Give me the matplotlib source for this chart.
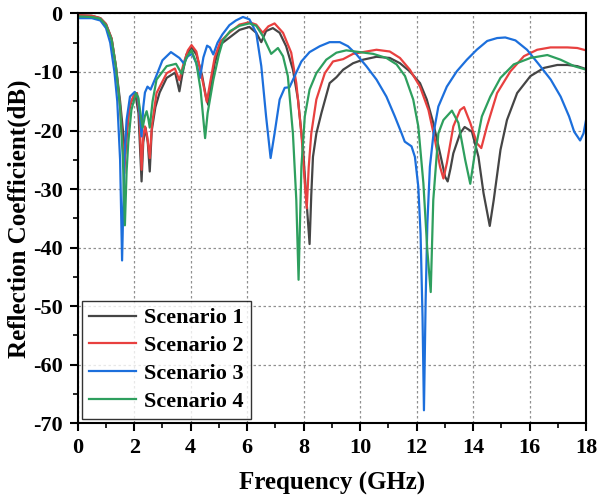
import matplotlib
matplotlib.use("Agg")
import matplotlib.pyplot as plt

plt.rcParams['font.family'] = ['Liberation Serif', 'DejaVu Serif']
plt.rcParams['font.weight'] = 'bold'
plt.rcParams['axes.unicode_minus'] = False

# Scenario 1 (black)
f1 = [0, 0.5, 0.8, 1.0, 1.2, 1.35, 1.5, 1.6, 1.68, 1.8, 1.9, 2.05, 2.15, 2.26, 2.32, 2.4, 2.48,
      2.55, 2.62, 2.75, 2.9, 3.15, 3.45, 3.6, 3.7, 3.85, 4.03, 4.2, 4.4, 4.55, 4.62, 4.7, 4.85,
      5.05, 5.35, 5.73, 6.08, 6.32, 6.5, 6.67, 6.91, 7.15, 7.38, 7.62, 7.8, 7.98, 8.1, 8.21, 8.27,
      8.33, 8.45, 8.63, 8.92, 9.16, 9.4, 9.75, 10.1, 10.58, 11.05, 11.41, 11.76, 12.12, 12.36,
      12.59, 12.83, 13.01, 13.1, 13.2, 13.3, 13.54, 13.7, 13.96, 14.19, 14.37, 14.59, 14.73,
      14.97, 15.2, 15.56, 16.03, 16.51, 16.98, 17.34, 17.69, 18.0]
s1 = [-0.3, -0.4, -0.8, -1.8, -4.3, -9, -15, -20, -24, -17, -15, -14, -17, -28.7, -22, -19.5, -22,
      -27, -20, -16, -13.5, -11, -10.1, -13.3, -10.5, -7, -5.8, -7, -10.5, -14.5, -15.6, -13, -8.5,
      -5.3, -4.2, -2.8, -2.3, -3.3, -4.9, -3.0, -2.5, -3.3, -5.6, -9.6, -14.7, -23.3, -31.9, -39.4, -31,
      -24.5, -20.5, -17, -11.9, -10.9, -9.6, -8.5, -7.9, -7.4, -7.6, -8.5, -9.9, -11.9, -14.7,
      -18.7, -23.9, -27.9, -28.7, -26.5, -23.9, -20.5, -19.4, -20.2, -24.5, -30.7, -36.3, -31.9,
      -23.3, -18.2, -13.6, -10.7, -9.3, -8.8, -8.8, -9.0, -9.5]

# Scenario 2 (red)
f2 = [0, 0.5, 0.8, 1.0, 1.2, 1.35, 1.5, 1.6, 1.65, 1.72, 1.85, 2.0, 2.1, 2.18, 2.26, 2.32, 2.38,
      2.46, 2.55, 2.63, 2.79, 3.15, 3.44, 3.6, 3.75, 3.9, 4.03, 4.2, 4.4, 4.57, 4.7, 4.85, 5.05,
      5.37, 5.73, 6.08, 6.32, 6.55, 6.75, 6.97, 7.27, 7.56, 7.74, 7.92, 8.04, 8.11, 8.18, 8.27,
      8.45, 8.75, 9.04, 9.4, 9.75, 10.1, 10.58, 11.05, 11.41, 11.76, 12.12, 12.42, 12.65, 12.83,
      12.95, 13.07, 13.3, 13.54, 13.68, 13.9, 14.14, 14.29, 14.49, 14.85, 15.32, 15.8, 16.27,
      16.74, 17.34, 17.69, 18.0]
s2 = [-0.3, -0.4, -0.8, -1.8, -4.3, -9, -16, -23, -27.3, -21, -15.5, -13.8, -13.6, -17, -26.7, -21,
      -19.3, -21, -24.7, -19, -13.6, -10.2, -9.4, -11.4, -8.5, -6.3, -5.4, -6.5, -11, -15.1, -11.5,
      -7.5, -4.8, -3.3, -1.9, -1.5, -1.9, -3.3, -2.2, -1.7, -3.3, -6.7, -11.9, -20.5, -29, -33.3,
      -26.2, -20.5, -14.7, -10.2, -8.2, -7.8, -6.9, -6.6, -6.2, -6.5, -7.6, -9.6, -12.5, -16.5,
      -21.6, -26.2, -28.2, -25.6, -19.3, -16.5, -16, -18.7, -22.2, -23, -19.3, -13.6, -9.9, -7.3,
      -6.2, -5.8, -5.8, -5.9, -6.3]

# Scenario 3 (blue)
f3 = [0, 0.5, 0.8, 1.0, 1.15, 1.3, 1.4, 1.5, 1.57, 1.65, 1.73, 1.85, 2.02, 2.14, 2.2, 2.26, 2.32,
      2.38, 2.47, 2.58, 2.73, 3.0, 3.3, 3.6, 3.75, 3.9, 4.05, 4.2, 4.33, 4.45, 4.58, 4.68, 4.8,
      4.95, 5.12, 5.37, 5.6, 5.85, 6.08, 6.32, 6.5, 6.67, 6.83, 6.97, 7.15, 7.33, 7.5, 7.68, 7.92,
      8.21, 8.57, 8.92, 9.28, 9.57, 9.87, 10.22, 10.58, 10.93, 11.23, 11.47, 11.58, 11.82, 11.94,
      12.06, 12.14, 12.21, 12.26, 12.32, 12.38, 12.47, 12.6, 12.77, 13.07, 13.42, 13.78, 14.13,
      14.5, 14.85, 15.14, 15.5, 15.91, 16.33, 16.75, 17.1, 17.4, 17.58, 17.79, 17.91, 18.0]
s3 = [-0.8, -0.8, -1.2, -2.5, -5, -10, -15, -25, -42.2, -25, -18.2, -14.2, -13.4, -14.5, -17.5,
      -21, -16, -13.5, -12.5, -13, -11.3, -8.0, -6.6, -7.6, -8.5, -7.3, -6.9, -8.5, -11, -7.5, -5.5,
      -5.8, -7.0, -5.0, -3.6, -2.0, -1.2, -0.6, -1.0, -3.3, -9, -17.6, -24.7, -20.5, -14.7, -12.7,
      -12.6, -10.7, -8.2, -6.6, -5.6, -4.9, -4.9, -5.6, -7.0, -9, -11.3, -14.2, -17.6, -20.5, -21.9,
      -22.7, -24.5, -29.6, -37.6, -51.9, -67.8, -49, -36, -26.2, -20.5, -15.9, -12.5, -9.9, -7.9,
      -6.2, -4.7, -4.2, -4.1, -4.6, -6.2, -8.7, -11.3, -14.2, -17.6, -20.2, -21.7, -20.5, -18.2]

# Scenario 4 (green)
f4 = [0, 0.5, 0.8, 1.0, 1.2, 1.35, 1.5, 1.6, 1.67, 1.73, 1.79, 1.9, 2.06, 2.14, 2.22, 2.3, 2.38,
      2.44, 2.5, 2.55, 2.65, 2.79, 3.15, 3.48, 3.68, 3.85, 4.03, 4.2, 4.35, 4.51, 4.6, 4.8, 5.0,
      5.15, 5.4, 5.73, 6.08, 6.32, 6.56, 6.85, 7.09, 7.27, 7.44, 7.62, 7.74, 7.82, 7.92, 8.04,
      8.21, 8.45, 8.8, 9.16, 9.51, 9.99, 10.46, 10.93, 11.29, 11.59, 11.88, 12.06, 12.24, 12.38,
      12.5, 12.59, 12.77, 12.95, 13.25, 13.48, 13.72, 13.9, 14.08, 14.31, 14.61, 14.97, 15.44,
      16.03, 16.63, 17.1, 17.58, 18.0]
s4 = [-0.5, -0.6, -0.9, -2.0, -4.5, -9, -16, -25, -36.2, -27, -22, -16.5, -13.6, -14.3, -17, -19.5,
      -17.5, -16.7, -18, -19.5, -15, -11.3, -9.0, -8.6, -10.3, -7.5, -6.3, -8.5, -13, -21.3, -17,
      -11.4, -7, -4.5, -3.0, -2.1, -1.7, -2.1, -3.9, -6.9, -5.9, -7.3, -10.7, -20.5, -31.9, -45.5,
      -26.2, -17.6, -13, -10.2, -7.9, -6.7, -6.3, -6.6, -6.9, -7.6, -8.7, -10.7, -14.7, -19.3, -29,
      -40.5, -47.6, -31.9, -20.5, -18.2, -16.6, -18.7, -25, -29.1, -23.3, -17.6, -14.2, -11, -8.7,
      -7.6, -7.1, -7.9, -9.0, -9.6]

labels = ['Scenario 1', 'Scenario 2', 'Scenario 3', 'Scenario 4']
colors = ['#454545', '#e8403f', '#1c6fdc', '#2e9f5e']

fig = plt.figure(figsize=(5.98, 4.99), dpi=100)
ax = fig.add_axes([0.130, 0.152, 0.850, 0.821])

for f, s, lab, c in zip([f1, f2, f3, f4], [s1, s2, s3, s4], labels, colors):
    ax.plot(f, s, color=c, lw=1.6, label=lab)

ax.set_xlim(0, 18)
ax.set_ylim(-70, 0)
ax.set_xticks(range(0, 19, 2))
ax.set_xticks(range(1, 18, 2), minor=True)
ax.set_yticks(range(-70, 1, 10))
ax.set_yticks(range(-65, 0, 10), minor=True)
ax.grid(True, which='major', linestyle=(0, (2, 2)), color='#909090', lw=0.9)

for sp in ax.spines.values():
    sp.set_linewidth(1.5)
ax.tick_params(which='major', direction='out', length=6, width=1.5, labelsize=16, pad=5)
ax.tick_params(which='minor', direction='out', length=3.5, width=1.2)
for t in ax.get_xticklabels() + ax.get_yticklabels():
    t.set_fontweight('bold')

ax.set_xlabel('Frequency (GHz)', fontsize=18, fontweight='bold', labelpad=10)
ax.set_ylabel('Reflection Coefficient(dB)', fontsize=18, fontweight='bold', labelpad=1)

leg = ax.legend(loc='lower left', fontsize=16, frameon=True, fancybox=False,
                edgecolor='black', handlelength=2.1, borderaxespad=0.2,
                borderpad=0.3, labelspacing=0.33, handletextpad=0.4)
leg.get_frame().set_linewidth(1.0)
for t in leg.get_texts():
    t.set_fontweight('bold')

fig.savefig('out.png', dpi=100)
